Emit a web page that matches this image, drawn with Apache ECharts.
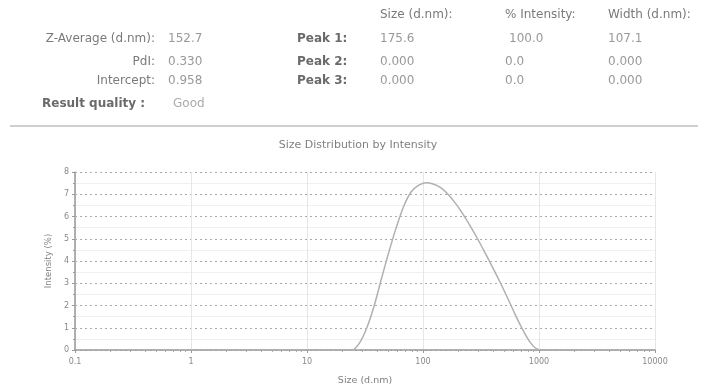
<!DOCTYPE html>
<html>
<head>
<meta charset="utf-8">
<script src="https://cdn.jsdelivr.net/npm/echarts@6/dist/echarts.min.js"></script>
<style>
  html, body { margin: 0; padding: 0; background: #fff; }
  #chart { width: 711px; height: 392px; }
</style>
</head>
<body>
<div id="chart"></div>
<script>
// size bins (d.nm)
const sizes = [0.4, 0.4632, 0.5365, 0.6213, 0.7195, 0.8332, 0.9649, 1.117, 1.294, 1.499,
  1.736, 2.01, 2.328, 2.696, 3.122, 3.615, 4.187, 4.849, 5.615, 6.503,
  7.531, 8.721, 10.1, 11.7, 13.54, 15.69, 18.17, 21.04, 24.36, 28.21,
  32.67, 37.84, 43.82, 50.75, 58.77, 68.06, 78.82, 91.28, 105.7, 122.4,
  141.8, 164.2, 190.1, 220.2, 255, 295.3, 342, 396.1, 458.7, 531.2,
  615.1, 712.4, 825, 955.4, 1106, 1281, 1484, 1718, 1990, 2305,
  2669, 3091, 3580, 4145, 4801, 5560, 6439, 7456, 8635, 10000];
// intensity (%)
const intensity = [0, 0, 0, 0, 0, 0, 0, 0, 0, 0,
  0, 0, 0, 0, 0, 0, 0, 0, 0, 0,
  0, 0, 0, 0, 0, 0, 0, 0, 0, 0.3,
  0.98, 1.97, 3.2, 4.4, 5.5, 6.45, 7.1, 7.4, 7.52, 7.46,
  7.3, 7.0, 6.6, 6.12, 5.58, 5.0, 4.38, 3.74, 3.08, 2.38,
  1.66, 0.98, 0.4, 0.05, 0, 0, 0, 0, 0, 0,
  0, 0, 0, 0, 0, 0, 0, 0, 0, 0];
const xTicks = [0.1, 1, 10, 100, 1000, 10000];
const yTicks = [0, 1, 2, 3, 4, 5, 6, 7, 8];

// header table
const leftLabels = ["Z-Average (d.nm):", "PdI:", "Intercept:"];
const leftValues = ["152.7", "0.330", "0.958"];
const peakLabels = ["Peak 1:", "Peak 2:", "Peak 3:"];
const colHeads = ["Size (d.nm):", "% Intensity:", "Width (d.nm):"];
const peakSize = ["175.6", "0.000", "0.000"];
const peakInt = ["100.0", "0.0", "0.0"];
const peakWidth = ["107.1", "0.000", "0.000"];
const quality = "Good";

const chart = echarts.init(document.getElementById("chart"));

const font = "DejaVu Sans";
const fs = 12;
const rowY = [39, 62, 81];
const colX = [380, 505, 608];
let g = [];
function put(x, y, s, align, opt) {
  g.push({
    type: "text", x: x, y: y,
    style: Object.assign({
      text: s, fill: "#808080", fontSize: fs, fontFamily: font,
      align: align, verticalAlign: "middle"
    }, opt || {})
  });
}
colHeads.forEach((h, i) => put(colX[i], 15, h, "left", { fill: "#7a7a7a" }));
leftLabels.forEach((h, i) => {
  put(155, rowY[i], h, "right", { fill: "#7a7a7a" });
  put(168, rowY[i], leftValues[i], "left", { fill: "#999" });
  put(297, rowY[i], peakLabels[i], "left", { fill: "#6a6a6a", fontWeight: "bold" });
  put(colX[0], rowY[i], peakSize[i], "left", { fill: "#999" });
  put(colX[1] + (i === 0 ? 4 : 0), rowY[i], peakInt[i], "left", { fill: "#999" });
  put(colX[2], rowY[i], peakWidth[i], "left", { fill: "#999" });
});
put(42, 104, "Result quality :", "left", { fill: "#6a6a6a", fontWeight: "bold" });
put(173, 104, quality, "left", { fill: "#aaa" });
g.push({
  type: "line", shape: { x1: 10, y1: 126, x2: 698, y2: 126 },
  style: { stroke: "#cfcfcf", lineWidth: 2 }
});

chart.setOption({
  animation: false,
  title: {
    text: "Size Distribution by Intensity",
    left: 353, top: 135, textAlign: "center",
    textStyle: { fontSize: 11, fontWeight: "normal", color: "#808080", fontFamily: font }
  },
  graphic: g,
  grid: { left: 75, right: 56, top: 172, bottom: 42 },
  xAxis: {
    type: "log", logBase: 10, min: xTicks[0], max: xTicks[xTicks.length - 1],
    name: "Size (d.nm)", nameLocation: "middle", nameGap: 26,
    nameTextStyle: { fontSize: 9.5, color: "#808080", fontFamily: font },
    axisLine: { lineStyle: { color: "#999", width: 1.5 } },
    axisTick: { show: true, length: 3, lineStyle: { color: "#999" } },
    minorTick: { show: true, splitNumber: 9, length: 2, lineStyle: { color: "#aaa" } },
    axisLabel: {
      fontSize: 8, color: "#888", fontFamily: font, margin: 8,
      formatter: v => xTicks.includes(+v.toPrecision(6)) ? String(+v.toPrecision(6)) : ""
    },
    splitLine: { show: true, lineStyle: { color: "#e6e6e6", width: 1 } }
  },
  yAxis: {
    type: "value", min: yTicks[0], max: yTicks[yTicks.length - 1], interval: 1,
    name: "Intensity (%)", nameLocation: "middle", nameGap: 20, nameRotate: 90,
    nameTextStyle: { fontSize: 8.5, color: "#808080", fontFamily: font },
    axisLine: { show: true, lineStyle: { color: "#999", width: 1.5 } },
    axisTick: { show: true, length: 3, lineStyle: { color: "#999" } },
    minorTick: { show: true, splitNumber: 2, length: 2, lineStyle: { color: "#999" } },
    axisLabel: { fontSize: 8, color: "#888", fontFamily: font, margin: 6 },
    splitLine: { show: true, lineStyle: { color: "#aaa", type: [2, 3], width: 1 } },
    minorSplitLine: { show: true, lineStyle: { color: "#f0f0f0" } }
  },
  series: [{
    type: "line",
    data: sizes.map((s, i) => [s, intensity[i]]),
    smooth: 0.3,
    showSymbol: false,
    lineStyle: { color: "#b0b0b0", width: 1.5 },
    z: 1
  }]
});
</script>
</body>
</html>
